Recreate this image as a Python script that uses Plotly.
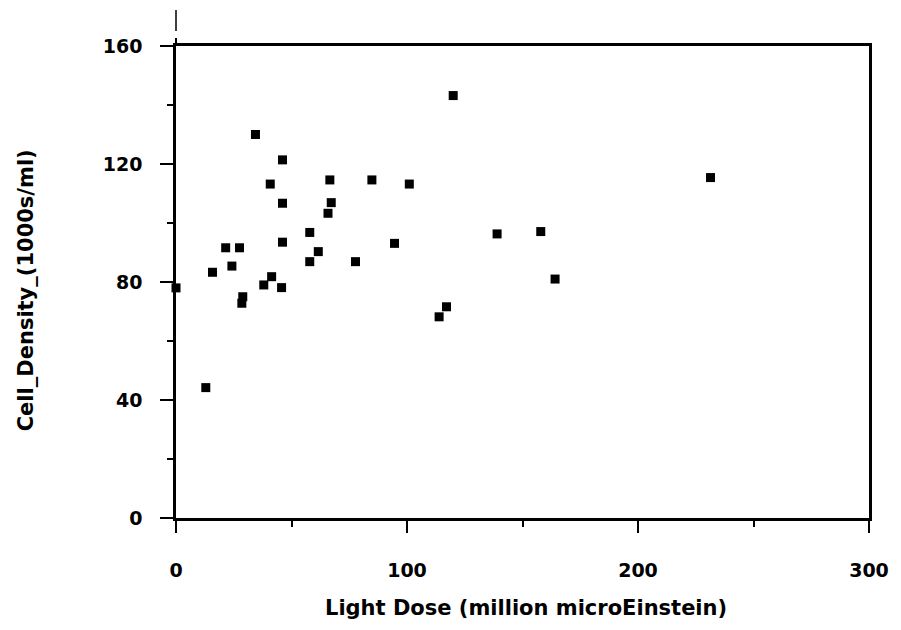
import plotly.graph_objects as go

# Data
light_dose = [0, 12.9, 15.8, 21.5, 24.2, 27.5, 28.9, 28.5, 38, 41.4, 40.8, 34.4,
              46.1, 46.1, 46.1, 45.7, 66.6, 67.2, 65.8, 57.9, 57.9, 61.6, 77.7,
              94.6, 84.8, 101, 120, 139, 157.9, 164.1, 117.1, 113.9, 231.4]
cell_density = [78, 44.2, 83.3, 91.6, 85.4, 91.6, 75.0, 72.8, 79, 81.8, 113.2, 130,
                121.4, 106.7, 93.5, 78.1, 114.6, 106.9, 103.3, 96.8, 86.9, 90.3, 86.9,
                93.1, 114.6, 113.2, 143.2, 96.3, 97.1, 81, 71.6, 68.2, 115.4]
x_ticks = [0, 100, 200, 300]
y_ticks = [0, 40, 80, 120, 160]
x_title = "Light Dose (million microEinstein)"
y_title = "Cell_Density_(1000s/ml)"

FONT = "DejaVu Sans"

fig = go.Figure()
fig.add_trace(go.Scatter(
    x=light_dose, y=cell_density, mode="markers",
    marker=dict(symbol="square", size=9, color="black"),
    cliponaxis=False, showlegend=False,
))

L, R, T, B = 176, 26, 46, 112
W, H = 901, 630
ph = H - T - B

fig.update_layout(
    width=W, height=H,
    margin=dict(l=L, r=R, t=T, b=B),
    paper_bgcolor="white", plot_bgcolor="white",
    font=dict(family=FONT, color="black"),
    xaxis=dict(
        range=[0, 300], tickvals=x_ticks, ticks="outside", ticklen=12, tickwidth=2,
        tickcolor="black", showline=True, linecolor="black", linewidth=2.5,
        mirror=True, showgrid=False, zeroline=False,
        tickfont=dict(family=FONT, size=19, color="black", weight="bold"),
        ticklabelstandoff=21,
        minor=dict(tickvals=[50, 150, 250], ticks="outside", ticklen=6,
                   tickwidth=1.5, tickcolor="black"),
    ),
    yaxis=dict(
        range=[0, 160], tickvals=y_ticks, ticks="outside", ticklen=13, tickwidth=2,
        tickcolor="black", showline=True, linecolor="black", linewidth=2.5,
        mirror=True, showgrid=False, zeroline=False,
        tickfont=dict(family=FONT, size=19, color="black", weight="bold"),
        ticklabelstandoff=14,
        minor=dict(tickvals=[20, 60, 100, 140], ticks="outside", ticklen=6,
                   tickwidth=1.5, tickcolor="black"),
    ),
    annotations=[
        dict(text=x_title, xref="paper", yref="paper", x=(529 - L) / (W - L - R),
             y=-(608 - 518) / ph, xanchor="center", yanchor="middle", showarrow=False,
             font=dict(family=FONT, size=21, color="black", weight="bold")),
        dict(text=y_title, xref="paper", yref="paper", x=-(176 - 25) / (W - L - R),
             y=(518 - 290) / ph, xanchor="center", yanchor="middle", textangle=-90,
             showarrow=False,
             font=dict(family=FONT, size=21, color="black", weight="bold")),
    ],
    shapes=[
        dict(type="line", xref="paper", yref="paper", x0=0, x1=0,
             y0=(518 - 31) / ph, y1=(518 - 10) / ph, line=dict(color="black", width=1.5)),
        dict(type="line", xref="paper", yref="paper", x0=0, x1=0,
             y0=1.0, y1=(518 - 38) / ph, line=dict(color="black", width=2)),
    ],
)

fig.write_html("out.html")
